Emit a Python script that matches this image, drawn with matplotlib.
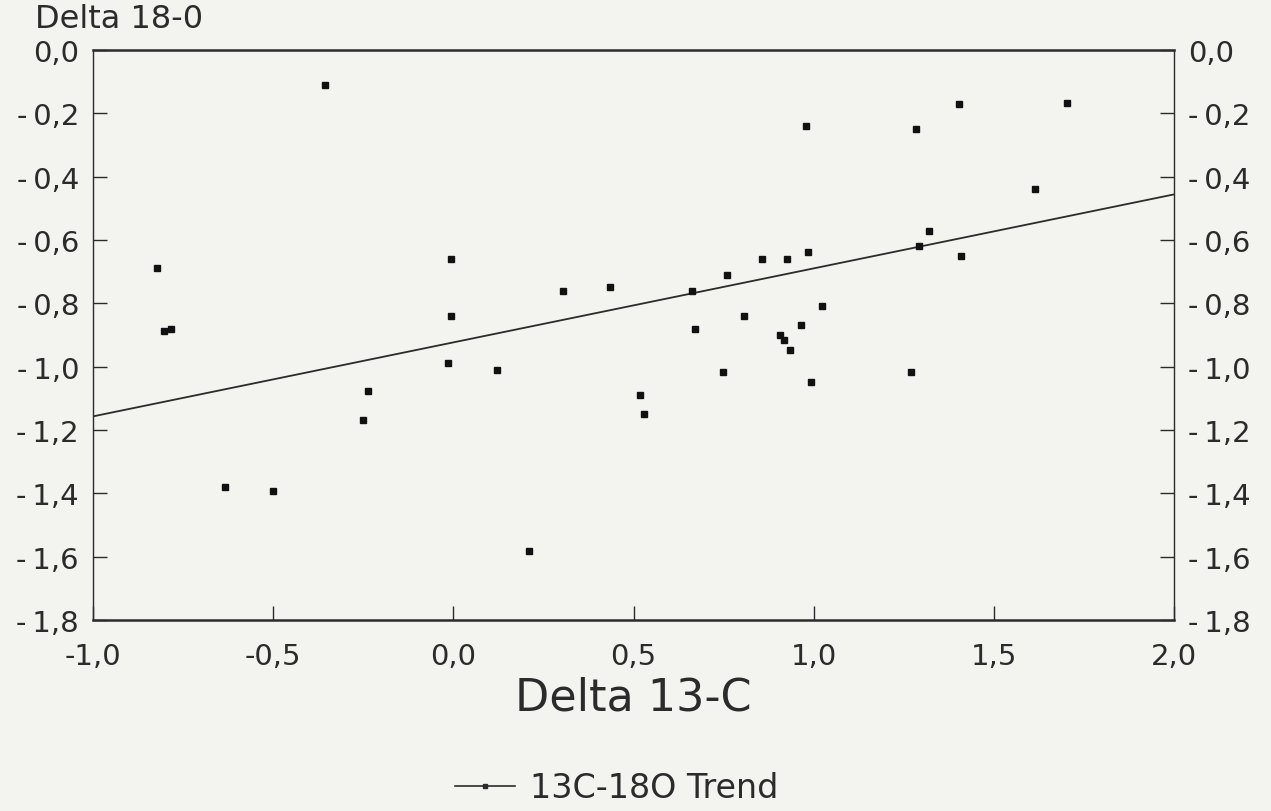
import numpy as np
import matplotlib
matplotlib.use("Agg")
import matplotlib.pyplot as plt
from matplotlib.lines import Line2D

# values
delta13c = [-0.357, -0.821, -0.802, -0.784, -0.007, -0.007, -0.016, 0.122,
            -0.238, -0.250, 0.303, 0.434, 0.518, 0.528, -0.634, -0.500,
            0.210, 0.979, 1.284, 1.402, 1.702, 1.613, 1.321, 1.293,
            1.409, 0.984, 0.926, 0.857, 0.760, 0.661, 0.807, 0.670,
            1.024, 0.964, 0.906, 0.917, 0.935, 0.748, 1.271, 0.993]
delta18o = [-0.109, -0.688, -0.888, -0.880, -0.660, -0.839, -0.988, -1.009,
            -1.078, -1.168, -0.760, -0.748, -1.089, -1.150, -1.380, -1.394,
            -1.583, -0.240, -0.249, -0.169, -0.166, -0.438, -0.570, -0.620,
            -0.649, -0.639, -0.660, -0.660, -0.709, -0.762, -0.839, -0.880,
            -0.809, -0.869, -0.899, -0.917, -0.948, -1.018, -1.018, -1.048]

trend_x = [-1.0, 2.0]
trend_y = [-1.157, -0.456]

xticks = [-1.0, -0.5, 0.0, 0.5, 1.0, 1.5, 2.0]
xtick_labels = ["-1,0", "-0,5", "0,0", "0,5", "1,0", "1,5", "2,0"]
yticks = [0.0, -0.2, -0.4, -0.6, -0.8, -1.0, -1.2, -1.4, -1.6, -1.8]
ytick_labels = ["0,0"] + ["-\u2009" + f"{abs(v):.1f}".replace(".", ",") for v in yticks[1:]]

paper = "#f3f3f0"
ink = "#2b2b2b"

plt.rcParams["font.family"] = ["DejaVu Sans"]

fig = plt.figure(figsize=(12.71, 8.12), dpi=100, facecolor=paper)
ax = fig.add_axes([93 / 1271, 1 - 621 / 812, (1174 - 93) / 1271, (621 - 51) / 812])
ax.set_facecolor(paper)

ax.plot(trend_x, trend_y, color=ink, lw=1.3)
ax.plot(delta13c, delta18o, linestyle="none", marker="s", markersize=4, color="#111111")

ax.set_xlim(-1.0, 2.0)
ax.set_ylim(-1.8, 0.0)

ax.set_xticks(xticks)
ax.set_xticklabels(xtick_labels)
ax.set_yticks(yticks)
ax.set_yticklabels(ytick_labels)

ax.tick_params(axis="x", direction="in", length=10, width=1.0, color=ink,
               labelsize=21, labelcolor=ink, pad=16)
ax.tick_params(axis="y", direction="in", length=10, width=1.0, color=ink,
               labelsize=21, labelcolor=ink, pad=10, right=True, labelright=True)

for side in ["top", "bottom"]:
    ax.spines[side].set_linewidth(1.8)
    ax.spines[side].set_color(ink)
for side in ["left", "right"]:
    ax.spines[side].set_linewidth(1.0)
    ax.spines[side].set_color(ink)

ax.set_xlabel("Delta 13-C", fontsize=32, color=ink, labelpad=4)
fig.text(35 / 1271, 1 - 20 / 812, "Delta 18-0", fontsize=23, color=ink, ha="left", va="center")

handle = Line2D([], [], color=ink, lw=1.2, marker="s", markersize=3.5)
fig.legend([handle], ["13C-18O Trend"], loc="center", bbox_to_anchor=(0.485, 1 - 789 / 812),
           frameon=False, fontsize=24, handlelength=1.8, handletextpad=0.45,
           labelcolor=ink)

fig.savefig("out.png", dpi=100, facecolor=paper)
